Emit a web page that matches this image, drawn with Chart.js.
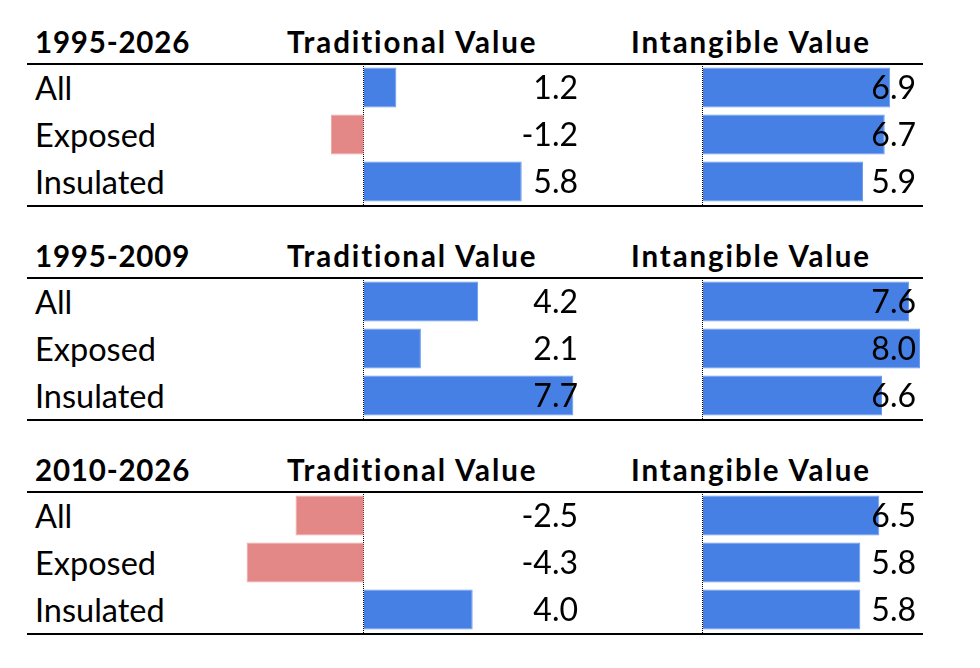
<!DOCTYPE html>
<html>
<head>
<meta charset="utf-8">
<script src="https://cdn.jsdelivr.net/npm/chart.js@4"></script>
<style>
  body { margin: 0; background: #fff; }
  #wrap { position: relative; width: 980px; height: 668px; font-family: Lato, sans-serif; color: #000; }
  .head { position: absolute; height: 40px; line-height: 40px; font-size: 29.5px; font-weight: bold; white-space: nowrap; }
  .period { letter-spacing: 0.8px; }
  .col { letter-spacing: 1.9px; }
  .row { position: absolute; left: 35px; height: 47px; line-height: 47px; font-size: 32.5px; white-space: nowrap; }
  .rule { position: absolute; left: 27px; width: 896px; background: #000; }
  canvas { position: absolute; }
</style>
</head>
<body>
<div id="wrap"></div>
<script>
// rows and period blocks
const categories = ['All', 'Exposed', 'Insulated'];
const periods = ['1995-2026', '1995-2009', '2010-2026'];
const columns = ['Traditional Value', 'Intangible Value'];

// values per period
const traditional1 = [1.2, -1.2, 5.8];
const intangible1 = [6.9, 6.7, 5.9];
const traditional2 = [4.2, 2.1, 7.7];
const intangible2 = [7.6, 8.0, 6.6];
const traditional3 = [-2.5, -4.3, 4.0];
const intangible3 = [6.5, 5.8, 5.8];

const traditionalData = [traditional1, traditional2, traditional3];
const intangibleData = [intangible1, intangible2, intangible3];

const BLUE = '#4680e4';
const BLUE_EDGE = '#6a9aee';
const RED = '#e48787';
const RED_EDGE = '#efa9a9';

const wrap = document.getElementById('wrap');

function addDiv(cls, text, css) {
  const d = document.createElement('div');
  d.className = cls;
  if (text) d.textContent = text;
  Object.assign(d.style, css);
  wrap.appendChild(d);
  return d;
}

// draws the numbers next to / inside the bar ends
const valueLabels = {
  id: 'valueLabels',
  afterDatasetsDraw(chart, args, opts) {
    const ctx = chart.ctx;
    const meta = chart.getDatasetMeta(0);
    const vals = chart.data.datasets[0].data;
    ctx.save();
    ctx.font = '32px Lato';
    ctx.fillStyle = '#000';
    ctx.textAlign = 'right';
    ctx.textBaseline = 'middle';
    meta.data.forEach((bar, i) => {
      ctx.fillText(vals[i].toFixed(1), chart.chartArea.right + opts.offset, bar.y + 1);
    });
    ctx.restore();
  }
};

// dotted zero line
const zeroLine = {
  id: 'zeroLine',
  beforeDatasetsDraw(chart) {
    const ctx = chart.ctx;
    const x = Math.round(chart.scales.x.getPixelForValue(0)) - 0.5;
    ctx.save();
    ctx.strokeStyle = '#000';
    ctx.lineWidth = 1;
    ctx.setLineDash([1, 1]);
    ctx.beginPath();
    ctx.moveTo(x, 0);
    ctx.lineTo(x, chart.height);
    ctx.stroke();
    ctx.restore();
  }
};

function makeChart(left, top, width, values, min, max, padL, padR, labelOffset) {
  const c = document.createElement('canvas');
  c.width = width;
  c.height = 141;
  c.style.left = left + 'px';
  c.style.top = top + 'px';
  c.style.width = width + 'px';
  c.style.height = '141px';
  wrap.appendChild(c);
  new Chart(c, {
    type: 'bar',
    data: {
      labels: categories,
      datasets: [{
        data: values,
        backgroundColor: values.map(v => v < 0 ? RED : BLUE),
        borderColor: values.map(v => v < 0 ? RED_EDGE : BLUE_EDGE),
        borderWidth: 1,
        barPercentage: 0.85,
        categoryPercentage: 1
      }]
    },
    options: {
      indexAxis: 'y',
      responsive: false,
      animation: false,
      devicePixelRatio: 1,
      layout: { padding: { left: padL, right: padR, top: 0, bottom: 0 } },
      scales: {
        x: { display: false, min: min, max: max },
        y: { display: false }
      },
      plugins: {
        legend: { display: false },
        tooltip: { enabled: false },
        valueLabels: { offset: labelOffset }
      }
    },
    plugins: [zeroLine, valueLabels]
  });
}

periods.forEach((p, k) => {
  const off = k * 214;
  addDiv('head period', p, { left: '35px', top: (22 + off) + 'px' });
  addDiv('head col', columns[0], { left: '287px', top: (22 + off) + 'px' });
  addDiv('head col', columns[1], { left: '631px', top: (22 + off) + 'px' });
  addDiv('rule', '', { top: (63 + off) + 'px', height: '1.5px' });
  addDiv('rule', '', { top: (205 + off) + 'px', height: '2px' });
  categories.forEach((c, i) => {
    addDiv('row', c, { top: (64 + off + i * 47) + 'px' });
  });
  makeChart(230, 64 + off, 360, traditionalData[k], -4.3, 7.7, 16.5, 16.5, 4.5);
  makeChart(690, 64 + off, 250, intangibleData[k], 0, 8, 13, 20, -4);
});
</script>
</body>
</html>
